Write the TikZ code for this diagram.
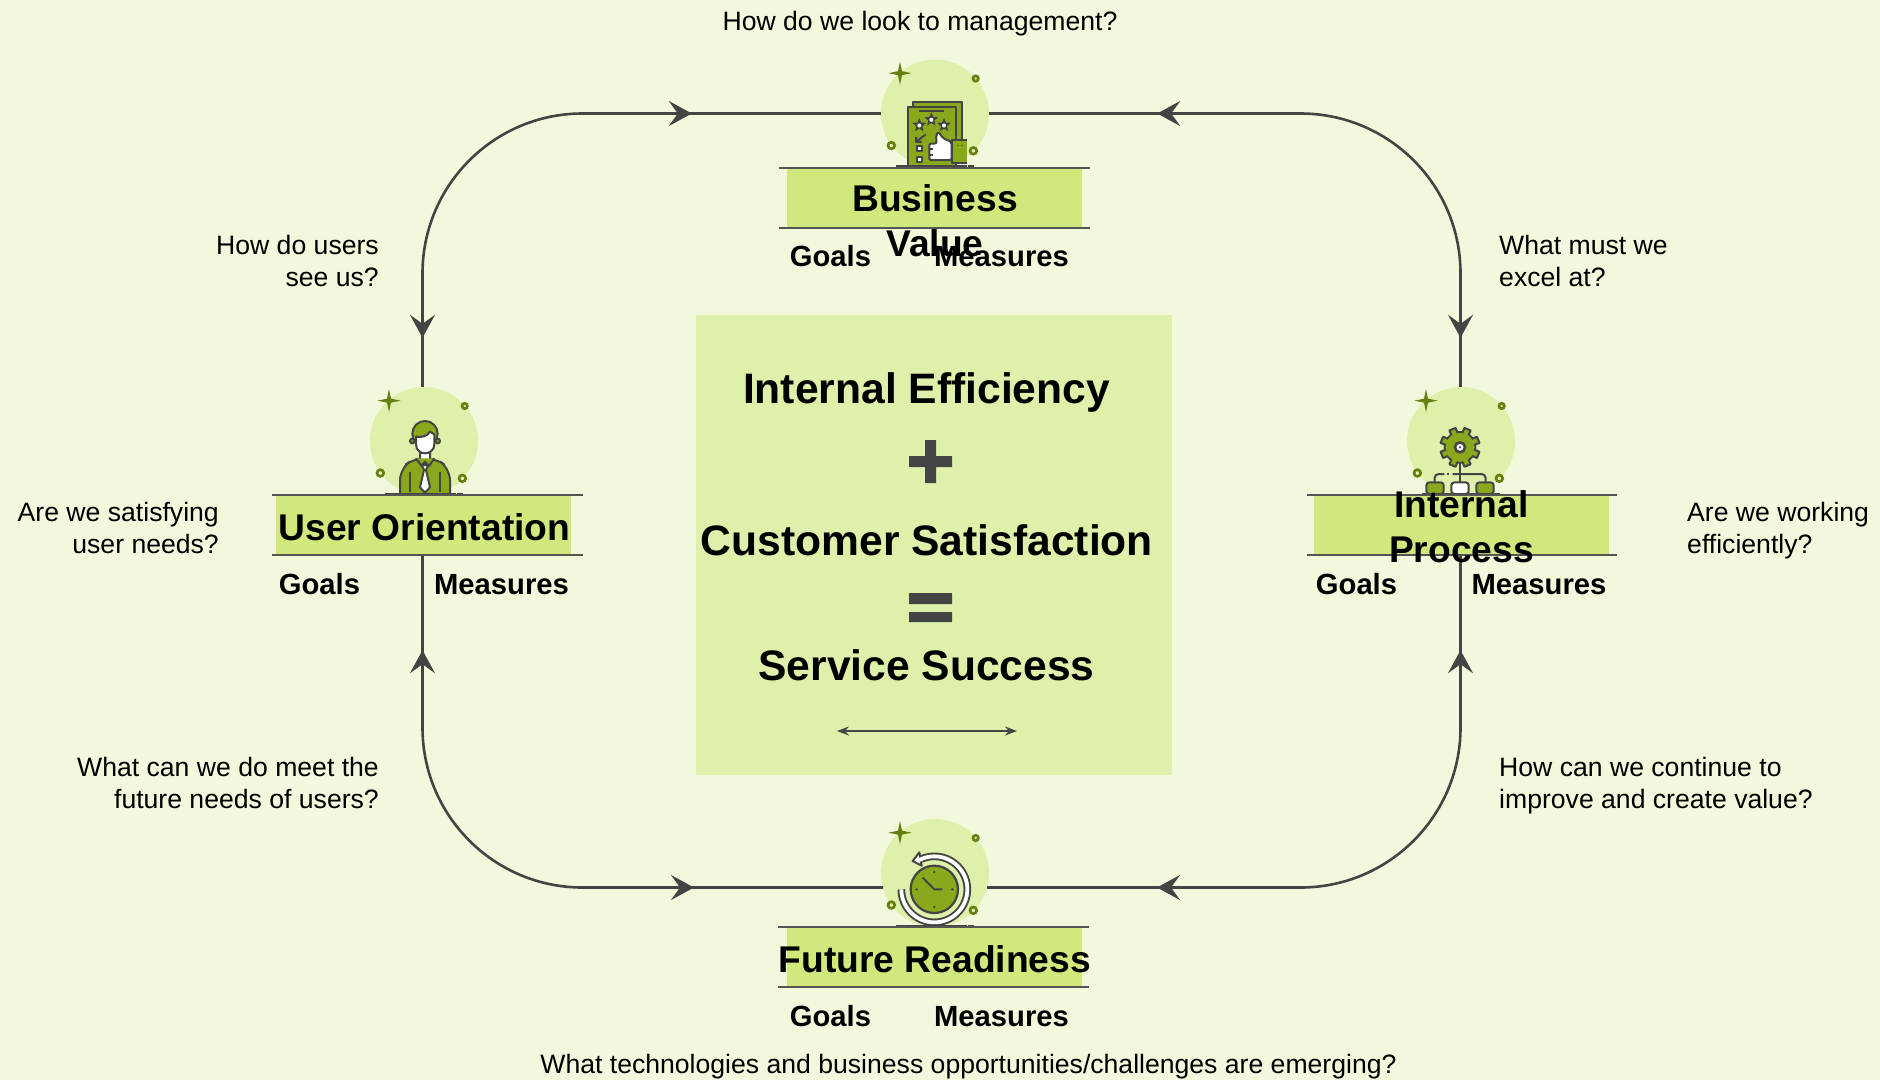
\documentclass[tikz,border=0pt]{standalone}
\usepackage{fontspec}
\setmainfont{Liberation Sans}
\usetikzlibrary{arrows.meta, decorations.markings}

\definecolor{pagebg}{HTML}{F2F8DB}
\definecolor{softgreen}{HTML}{DFF0AB}
\definecolor{bargreen}{HTML}{D0E87C}
\definecolor{leafgreen}{HTML}{8AA81C}
\definecolor{olivegreen}{HTML}{66800F}
\definecolor{inkgray}{HTML}{444444}

\tikzset{
    loopline/.style={draw=inkgray, line width=2.6pt, rounded corners=160pt, postaction={decorate}},
    headsat/.style 2 args={decoration={markings,
        mark=at position #1 with {\arrow{Stealth[length=23pt, width=25pt, inset=9pt, reversed]}},
        mark=at position #2 with {\arrow{Stealth[length=23pt, width=25pt, inset=9pt]}}}},
    iconbg/.style={circle, fill=softgreen, inner sep=0pt, minimum size=108pt},
    barbox/.style={fill=bargreen, inner sep=0pt, minimum width=295pt, minimum height=60pt},
    barrule/.style={draw=inkgray!90!pagebg, line width=2.2pt},
    asktext/.style={font=\fontsize{26.6}{32}\selectfont, inner sep=0pt},
    goaltext/.style={font=\fontsize{29.2}{34}\selectfont\bfseries, inner sep=0pt, anchor=base},
    bartitle/.style={font=\fontsize{37.2}{45}\selectfont\bfseries, inner sep=0pt, align=center},
    sumtitle/.style={font=\fontsize{42.6}{50}\selectfont\bfseries, inner sep=0pt},
    inkline/.style={draw=inkgray, line width=2pt, line join=round},
    % star, rings and ground line round each icon, in units of a third of a pixel
    pics/iconbits/.style={code={
        \fill[olivegreen] (-105,-156) -- (-99,-127) -- (-70,-121) -- (-99,-115) -- (-105,-86)
            -- (-111,-115) -- (-140,-121) -- (-111,-127) -- cycle;
        \draw[olivegreen, line width=2.7pt] (122,-105) circle (8);
        \draw[olivegreen, line width=2.7pt] (-131,96) circle (10);
        \draw[olivegreen, line width=2.7pt] (115,112) circle (10);
    }},
    pics/iconground/.style={code={
        \draw[inkgray, line width=3pt] (-117,159) -- (95,159) (100,159) -- (117,159);
    }},
    pics/reporticon/.style={code={
        \draw[inkline, fill=leafgreen] (-65,-35) rectangle (82,100);
        \draw[inkline, fill=leafgreen] (-81,-20) rectangle (63,157);
        \draw[inkline] (-48,-7) -- (28,-7);
        \foreach \sx/\sy in {-47/35, -11/18, 27/35} {
            \fill[inkgray, shift={(\sx,\sy)}, scale=1.15] (0,-19) -- (5,-7) -- (18,-6) -- (8,3) -- (11,16) -- (0,9)
                -- (-11,16) -- (-8,3) -- (-18,-6) -- (-5,-7) -- cycle;
            \fill[white, shift={(\sx,\sy)}] (0,1) circle (6);
        }
        \draw[inkline] (-28,63) -- (-57,85) (-57,70) -- (-57,85) -- (-40,85);
        \draw[inkline, fill=white] (-55,97) rectangle (-39,113);
        \draw[inkline, fill=white] (-55,129) rectangle (-39,145);
        \draw[inkline, fill=white, rounded corners=2pt] (-17,90) -- (5,90) -- (3,65) -- (10,55)
            -- (25,75) -- (50,85) -- (50,140) -- (-17,140) -- cycle;
        \draw[inkline] (-17,107) -- (-5,107) (-17,124) -- (-5,124);
        \fill[leafgreen] (50,80) rectangle (97,147);
        \draw[inkline] (97,80) -- (50,80) -- (50,147) -- (97,147);
        \fill[inkgray] (69,96) circle (2) (81,96) circle (2);
    }},
    pics/usericon/.style={code={
        \draw[inkline, fill=leafgreen, rounded corners=12pt] (-72,159) -- (-72,82) -- (-25,50)
            -- (31,50) -- (78,82) -- (78,159);
        \draw[inkline] (-42,92) -- (-42,152) (48,92) -- (48,152);
        \draw[inkline, fill=white] (-12,32) -- (-12,56) -- (3,66) -- (18,56) -- (18,32) -- cycle;
        \draw[inkline, fill=leafgreen] (-25,52) -- (-7,75) -- (3,62) -- (15,75) -- (31,52);
        \draw[inkline, fill=white] (-7,72) -- (13,72) -- (6,87) -- (18,139) -- (3,155) -- (-12,139)
            -- (0,87) -- cycle;
        \draw[inkline, fill=leafgreen] (-35,0) circle (7) (41,0) circle (7);
        \draw[inkline, fill=leafgreen] (3,-22) circle (38);
        \draw[inkline, fill=white] (-24,-13) -- (-24,10) .. controls (-24,28) and (-10,37) .. (3,37)
            .. controls (16,37) and (31,28) .. (31,10) -- (31,-20) -- (18,-28)
            .. controls (10,-14) and (-8,-10) .. cycle;
    }},
    pics/gearicon/.style={code={
        \draw[inkline] (-3,60) -- (-3,124);
        \draw[inkline, rounded corners=4pt] (-79,124) -- (-79,99) -- (-50,99);
        \draw[inkline] (-41,99) -- (-36,99);
        \draw[inkline, rounded corners=4pt] (-25,99) -- (74,99) -- (74,124);
        \draw[inkline, fill=leafgreen, rounded corners=3pt] (-104,124) rectangle (-52,159);
        \draw[inkline, fill=white, rounded corners=3pt] (-29,124) rectangle (23,159);
        \draw[inkline, fill=leafgreen, rounded corners=3pt] (46,124) rectangle (98,159);
        \begin{scope}[shift={(-3,19)}]
            \draw[inkline, fill=leafgreen] (0,0) circle (46);
            \foreach \a in {0,45,...,315} {
                \draw[inkline, fill=leafgreen, rotate=\a+22.5] (-10,38) rectangle (10,59);
            }
            \fill[leafgreen] (0,0) circle (43);
            \draw[inkgray, line width=2.6pt, fill=white] (0,0) circle (15);
            \fill[inkgray] (0,0) circle (3.5);
        \end{scope}
    }},
    pics/clockicon/.style={code={
        \begin{scope}[shift={(-2,49)}]
            \draw[inkgray, line width=7.6pt] (-99,0) arc (180:-113:99);
            \draw[inkline, fill=white] (-65,-85) -- (-45,-111) -- (-38,-71) -- cycle;
            \draw[white, line width=3.8pt] (-99,0) arc (180:-117:99);
            \draw[inkgray, line width=2.2pt, fill=leafgreen] (0,0) circle (71);
            \fill[inkgray] (0,-52) circle (4) (54,0) circle (4) (0,53) circle (4) (-53,0) circle (4);
            \draw[inkline] (-35,-35) -- (0,0) -- (24,0);
        \end{scope}
    }},
}

\begin{document}
\begin{tikzpicture}[x=1pt, y=-1pt]
    % Page
    \useasboundingbox (0,0) rectangle (1880,1080);
    \fill[pagebg] (0,0) rectangle (1880,1080);

    % Icon discs and title bars
    \node[iconbg] (topIcon) at (935,113.5) {};
    \node[iconbg] (leftIcon) at (424,441) {};
    \node[iconbg] (rightIcon) at (1461,441) {};
    \node[iconbg] (bottomIcon) at (935,873) {};
    \node[barbox] (topBar) at (934.5,198) {};
    \node[barbox] (leftBar) at (423.5,525) {};
    \node[barbox] (rightBar) at (1461.5,525) {};
    \node[barbox] (bottomBar) at (934.5,957) {};
    \coordinate (bottomLeftEnd) at (883,887.5);
    \coordinate (bottomRightEnd) at (987,887.5);

    % Loop
    \draw[loopline, headsat={72pt}{-189pt}] ([xshift=-1.5pt]leftIcon.north) |- (topIcon.west);
    \draw[loopline, headsat={72pt}{-168pt}] ([xshift=-0.5pt]rightIcon.north) |- (topIcon.east);
    \draw[loopline, headsat={118pt}{-189pt}] ([xshift=-1pt]leftBar.south) |- (bottomLeftEnd);
    \draw[loopline, headsat={118pt}{-170pt}] ([xshift=-1pt]rightBar.south) |- (bottomRightEnd);

    % Icons
    \pic[scale=1/3] at (topIcon) {iconbits};
    \pic[scale=1/3] at (leftIcon) {iconbits};
    \pic[scale=1/3] at (rightIcon) {iconbits};
    \pic[scale=1/3] at (bottomIcon) {iconbits};
    \pic[scale=1/3] at (topIcon) {reporticon};
    \pic[scale=1/3] at (leftIcon) {usericon};
    \pic[scale=1/3] at (rightIcon) {gearicon};
    \pic[scale=1/3] at (bottomIcon) {clockicon};
    \pic[scale=1/3] at (topIcon) {iconground};
    \pic[scale=1/3] at (leftIcon) {iconground};
    \pic[scale=1/3] at (rightIcon) {iconground};
    \pic[scale=1/3] at (bottomIcon) {iconground};

    % Rules of the bars
    \draw[barrule] ([xshift=-8pt]topBar.north west) -- ([xshift=8pt]topBar.north east);
    \draw[barrule] ([xshift=-8pt]topBar.south west) -- ([xshift=8pt]topBar.south east);
    \draw[barrule] ([xshift=-4pt]leftBar.north west) -- ([xshift=12pt]leftBar.north east);
    \draw[barrule] ([xshift=-4pt]leftBar.south west) -- ([xshift=12pt]leftBar.south east);
    \draw[barrule] ([xshift=-7pt]rightBar.north west) -- ([xshift=8pt]rightBar.north east);
    \draw[barrule] ([xshift=-7pt]rightBar.south west) -- ([xshift=8pt]rightBar.south east);
    \draw[barrule] ([xshift=-9pt]bottomBar.north west) -- ([xshift=7pt]bottomBar.north east);
    \draw[barrule] ([xshift=-9pt]bottomBar.south west) -- ([xshift=7pt]bottomBar.south east);

    % Bar titles
    \node[bartitle] (topTitle) at (935,221) {Business\\Value};
    \node[bartitle] (leftTitle) at (424.5,527) {User Orientation};
    \node[bartitle] (rightTitle) at (1461.5,527) {Internal\\Process};
    \node[bartitle] (bottomTitle) at (935,959) {Future Readiness};

    % Goals and measures
    \node[goaltext] (topGoals) at (830.5,266) {Goals};
    \node[goaltext] (topMeasures) at (1001.5,266) {Measures};
    \node[goaltext] (leftGoals) at (319.5,594) {Goals};
    \node[goaltext] (leftMeasures) at (501.5,594) {Measures};
    \node[goaltext] (rightGoals) at (1356.5,594) {Goals};
    \node[goaltext] (rightMeasures) at (1539,594) {Measures};
    \node[goaltext] (bottomGoals) at (830.5,1026) {Goals};
    \node[goaltext] (bottomMeasures) at (1001.5,1026) {Measures};

    % Questions
    \node[asktext] (askTop) at (920,24) {How do we look to management?};
    \node[asktext, align=right, anchor=east] (askTopLeft) at (379,261) {How do users\\see us?};
    \node[asktext, align=left, anchor=west] (askTopRight) at (1499,261) {What must we\\excel at?};
    \node[asktext, align=right, anchor=east] (askLeft) at (219,528) {Are we satisfying\\user needs?};
    \node[asktext, align=left, anchor=west] (askRight) at (1687,530.5) {Are we working\\efficiently?};
    \node[asktext, align=right, anchor=east] (askBottomLeft) at (379,783) {What can we do meet the\\future needs of users?};
    \node[asktext, align=left, anchor=west] (askBottomRight) at (1499,785.5) {How can we continue to\\improve and create value?};
    \node[asktext] (askBottom) at (968.5,1066.5) {What technologies and business opportunities/challenges are emerging?};

    % Centre panel
    \fill[softgreen] (696,315) rectangle (1172,775);
    \node[sumtitle] (sumFirst) at (926.5,392.5) {Internal Efficiency};
    \fill[inkgray] (909,456) rectangle (952,467) (925,440) rectangle (936,483);
    \node[sumtitle] (sumSecond) at (927,540) {Customer Satisfaction};
    \fill[inkgray] (909,593) rectangle (952,604) (909,612) rectangle (952,622);
    \node[sumtitle] (sumThird) at (926.5,665) {Service Success};
    \coordinate (spanLeft) at (837,731);
    \coordinate (spanRight) at (1017,731);
    \draw[{Stealth[length=12pt, width=9pt, inset=4pt]}-{Stealth[length=12pt, width=9pt, inset=4pt]}, draw=inkgray, line width=1.5pt] (spanLeft) -- (spanRight);
\end{tikzpicture}
\end{document}
